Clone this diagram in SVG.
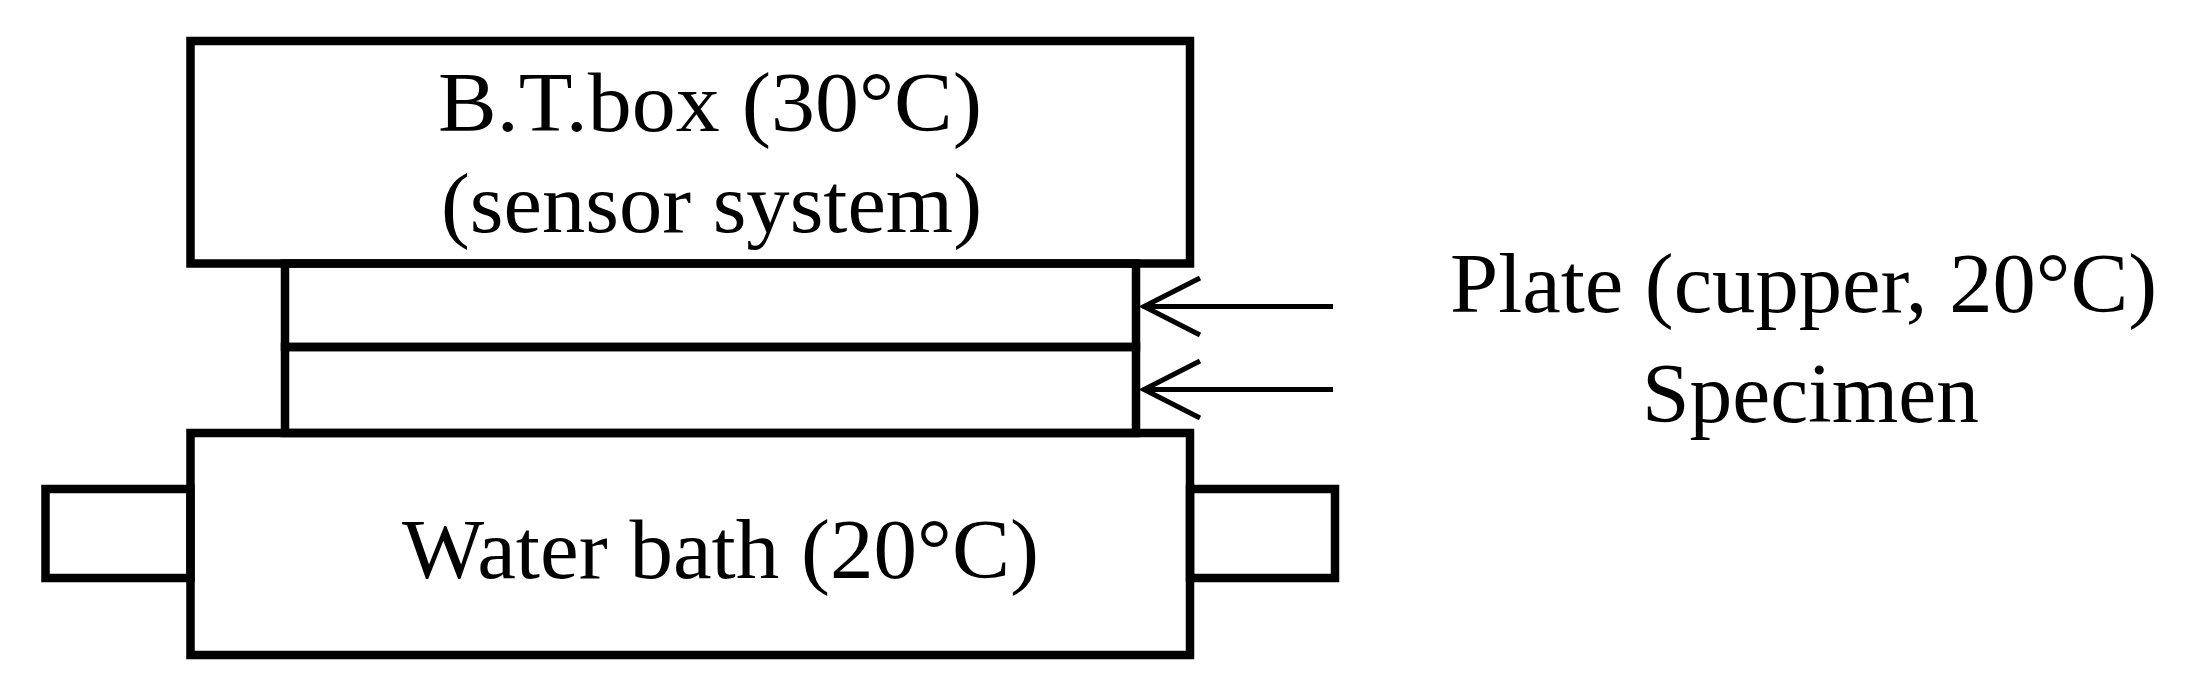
<svg xmlns="http://www.w3.org/2000/svg" width="2190" height="695" viewBox="0 0 2190 695">
<style>
.box{fill:none;stroke:#000;stroke-width:8.5;stroke-linejoin:miter}
.conn{fill:none;stroke:#000;stroke-width:5}
.lbl{font-family:"Liberation Serif","Times New Roman",serif;font-size:84px;fill:#000}
</style>
<rect width="2190" height="695" fill="#fff"/>
<g id="tab-left"><rect class="box" x="45.5" y="489" width="145" height="89"/></g>
<g id="tab-right"><rect class="box" x="1190" y="489" width="145" height="89"/></g>
<g id="specimen"><rect class="box" x="285" y="347" width="851" height="86"/></g>
<g id="plate"><rect class="box" x="285" y="263.5" width="851" height="83.5"/></g>
<g id="bt-box">
<rect class="box" x="190.5" y="41" width="999.5" height="222.5" fill="#fff"/>
<text class="lbl" x="438" y="131" textLength="544" lengthAdjust="spacingAndGlyphs">B.T.box (30°C)</text>
<text class="lbl" x="441" y="232" textLength="541" lengthAdjust="spacingAndGlyphs">(sensor system)</text>
</g>
<g id="water-bath">
<rect class="box" x="190.5" y="433" width="999.5" height="222" fill="#fff"/>
<text class="lbl" x="402" y="578" textLength="637" lengthAdjust="spacingAndGlyphs">Water bath (20°C)</text>
</g>
<g id="label-plate"><text class="lbl" x="1450" y="312" textLength="707" lengthAdjust="spacingAndGlyphs">Plate (cupper, 20°C)</text></g>
<g id="label-specimen"><text class="lbl" x="1642" y="422" textLength="337" lengthAdjust="spacingAndGlyphs">Specimen</text></g>
<g id="connectors">
<path class="conn" d="M1333 306.5H1144M1200 278L1144 306.5L1200 335"/>
<path class="conn" d="M1333 389.5H1144M1200 361L1144 389.5L1200 418"/>
</g>
</svg>
